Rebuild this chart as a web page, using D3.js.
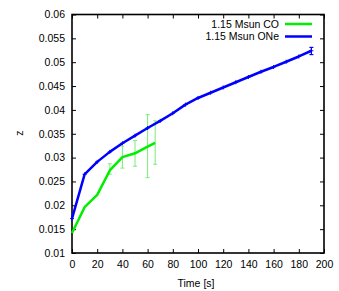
<!DOCTYPE html>
<html>
<head>
<meta charset="utf-8">
<script src="https://cdn.jsdelivr.net/npm/d3@7/dist/d3.min.js"></script>
<style>
  body { margin: 0; background: #fff; }
  svg text { font-family: "Liberation Sans", Arial, sans-serif; fill: #000; }
</style>
</head>
<body>
<svg id="chart" width="339" height="291"></svg>
<script>
// data
const coTime = [0, 10, 20, 30, 40, 50, 60, 66];
const coZ = [0.0142, 0.0196, 0.0222, 0.0273, 0.0301, 0.0309, 0.0323, 0.0331];
const coErrTime = [30, 40, 50, 60, 66];
const coErrLow = [0.0265, 0.0278, 0.0282, 0.0258, 0.0286];
const coErrHigh = [0.0287, 0.0324, 0.0336, 0.0390, 0.0377];

const oneTime = [0, 10, 20, 30, 40, 50, 60, 70, 80, 90, 100, 110, 120, 130, 140, 150, 160, 170, 180, 190];
const oneZ = [0.0172, 0.0265, 0.0291, 0.0312, 0.0330, 0.0346, 0.0362, 0.0377, 0.0393, 0.0411,
              0.0425, 0.0436, 0.0447, 0.0458, 0.0469, 0.0480, 0.0490, 0.0501, 0.0512, 0.0524];
const oneErrTime = [190];
const oneErrLow = [0.0516];
const oneErrHigh = [0.0531];

const xTicks = [0, 20, 40, 60, 80, 100, 120, 140, 160, 180, 200];
const yTicks = [0.01, 0.015, 0.02, 0.025, 0.03, 0.035, 0.04, 0.045, 0.05, 0.055, 0.06];

const seriesNames = ["1.15 Msun CO", "1.15 Msun ONe"];
const seriesColors = ["#00ee00", "#0000ff"];

// layout
const plotL = 72, plotR = 324, plotT = 14.5, plotB = 253;
const svg = d3.select('#chart');

const x = d3.scaleLinear().domain([0, 200]).range([plotL, plotR]);
const y = d3.scaleLinear().domain([0.01, 0.06]).range([plotB, plotT]);

const tickLen = 4;

// axes (ticks inward, mirrored)
svg.append('g').attr('transform', `translate(0,${plotB})`)
	.call(d3.axisBottom(x).tickValues(xTicks).tickFormat(d3.format('d')).tickSizeInner(-tickLen).tickSizeOuter(0).tickPadding(8));
svg.append('g').attr('transform', `translate(${plotL},0)`)
	.call(d3.axisLeft(y).tickValues(yTicks).tickFormat(d => String(+d.toFixed(3))).tickSizeInner(-tickLen).tickSizeOuter(0).tickPadding(7));
svg.append('g').attr('transform', `translate(0,${plotT})`)
	.call(d3.axisTop(x).tickValues(xTicks).tickFormat('').tickSizeInner(-tickLen).tickSizeOuter(0));
svg.append('g').attr('transform', `translate(${plotR},0)`)
	.call(d3.axisRight(y).tickValues(yTicks).tickFormat('').tickSizeInner(-tickLen).tickSizeOuter(0));

svg.selectAll('.domain').remove();
svg.selectAll('.tick line').attr('stroke', '#000').attr('stroke-width', 1);
svg.selectAll('.tick text').attr('font-size', '10.5px').attr('fill', '#000');

// frame
svg.append('rect')
	.attr('x', plotL).attr('y', plotT)
	.attr('width', plotR - plotL).attr('height', plotB - plotT)
	.attr('fill', 'none').attr('stroke', '#000').attr('stroke-width', 1.6);

// axis titles
svg.append('text')
	.attr('x', (plotL + plotR) / 2 - 2).attr('y', 287)
	.attr('text-anchor', 'middle').attr('font-size', '10.5px')
	.text('Time [s]');
svg.append('text')
	.attr('transform', `translate(23,133) rotate(-90)`)
	.attr('text-anchor', 'middle').attr('font-size', '10.5px')
	.text('z');

const line = d3.line().x(d => x(d[0])).y(d => y(d[1]));

// error bars
function errorBars(times, lows, highs, color, width) {
	const g = svg.append('g').attr('stroke', color).attr('stroke-width', width);
	times.forEach((t, i) => {
		g.append('line').attr('x1', x(t)).attr('x2', x(t)).attr('y1', y(lows[i])).attr('y2', y(highs[i]));
		g.append('line').attr('x1', x(t) - 2).attr('x2', x(t) + 2).attr('y1', y(lows[i])).attr('y2', y(lows[i]));
		g.append('line').attr('x1', x(t) - 2).attr('x2', x(t) + 2).attr('y1', y(highs[i])).attr('y2', y(highs[i]));
	});
}
errorBars(coErrTime, coErrLow, coErrHigh, '#77ee77', 1);

// CO line
const coData = coTime.map((t, i) => [t, coZ[i]]);
svg.append('path').datum(coData)
	.attr('d', line).attr('fill', 'none')
	.attr('stroke', seriesColors[0]).attr('stroke-width', 2.5).attr('stroke-linejoin', 'round');

// ONe line
errorBars(oneErrTime, oneErrLow, oneErrHigh, seriesColors[1], 1.2);
const oneData = oneTime.map((t, i) => [t, oneZ[i]]);
svg.append('path').datum(oneData)
	.attr('d', line).attr('fill', 'none')
	.attr('stroke', seriesColors[1]).attr('stroke-width', 2.5).attr('stroke-linejoin', 'round');

// small point marks
svg.append('g').attr('stroke', seriesColors[1]).attr('stroke-width', 1)
	.selectAll('path').data(oneData).join('path')
	.attr('d', d => `M${x(d[0]) - 2},${y(d[1])}h4M${x(d[0])},${y(d[1]) - 2}v4`);

// legend
const legend = svg.append('g');
seriesNames.forEach((name, i) => {
	const ly = 24 + i * 12.5;
	legend.append('text')
		.attr('x', 279).attr('y', ly + 3.8)
		.attr('text-anchor', 'end').attr('font-size', '10.5px')
		.text(name);
	legend.append('line')
		.attr('x1', 285).attr('x2', 312).attr('y1', ly).attr('y2', ly)
		.attr('stroke', seriesColors[i]).attr('stroke-width', 2.5);
});
</script>
</body>
</html>
